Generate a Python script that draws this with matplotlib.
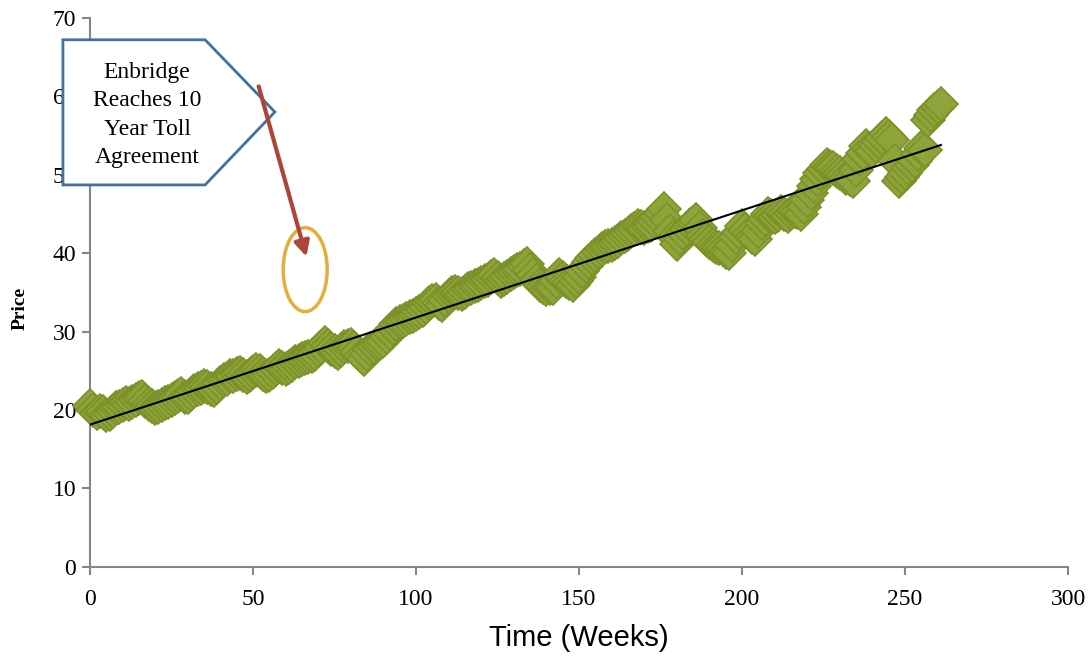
import numpy as np
import matplotlib
matplotlib.use("Agg")
import matplotlib.pyplot as plt
from matplotlib.patches import Polygon, Ellipse

# weekly closing prices, week 0 .. 261
prices = [
    20.5, 20.0, 19.6, 19.9, 19.8, 19.4, 19.5, 19.9, 20.2, 20.4,
    20.6, 20.9, 20.8, 21.0, 21.3, 21.5, 21.6, 21.2, 20.8, 20.5,
    20.3, 20.4, 20.6, 20.9, 21.0, 21.3, 21.5, 21.8, 22.0, 21.7,
    21.6, 22.0, 22.4, 22.7, 22.8, 23.1, 23.0, 22.7, 22.6, 23.0,
    23.5, 23.8, 24.0, 24.3, 24.4, 24.6, 24.7, 24.5, 24.2, 24.5,
    24.8, 25.1, 25.0, 24.6, 24.3, 24.5, 24.8, 25.2, 25.6, 25.4,
    25.2, 25.5, 25.8, 26.1, 26.3, 26.5, 26.6, 26.8, 26.9, 27.2,
    27.6, 28.1, 28.6, 28.2, 27.8, 27.5, 27.3, 27.6, 28.0, 28.2,
    28.3, 27.9, 27.4, 26.9, 26.5, 27.2, 27.8, 28.1, 28.4, 28.6,
    28.8, 29.3, 29.8, 30.5, 31.0, 31.2, 31.4, 31.6, 31.8, 32.0,
    32.3, 32.5, 32.8, 33.2, 33.6, 33.9, 34.0, 33.7, 33.4, 34.0,
    34.6, 34.9, 35.0, 34.9, 34.8, 35.1, 35.4, 35.6, 35.8, 36.0,
    36.2, 36.4, 36.6, 36.9, 37.2, 36.8, 36.4, 36.7, 37.0, 37.3,
    37.6, 37.8, 38.0, 38.3, 38.6, 37.9, 37.2, 36.6, 36.0, 35.7,
    35.4, 35.5, 35.6, 36.4, 37.2, 36.8, 36.4, 36.2, 36.0, 36.5,
    37.0, 37.7, 38.4, 38.9, 39.4, 39.8, 40.2, 40.5, 40.8, 40.9,
    41.0, 41.3, 41.6, 41.9, 42.2, 42.5, 42.8, 43.1, 43.4, 43.3,
    43.2, 43.4, 43.6, 44.1, 44.6, 45.1, 45.6, 44.2, 42.8, 42.0,
    41.2, 41.9, 42.6, 43.1, 43.6, 43.9, 44.2, 43.2, 42.2, 41.8,
    41.4, 41.1, 40.8, 40.6, 40.5, 40.2, 40.0, 41.0, 42.0, 42.7,
    43.4, 42.9, 42.4, 42.1, 41.8, 42.8, 43.8, 44.4, 45.0, 44.8,
    44.6, 44.9, 45.2, 45.0, 44.8, 45.1, 45.4, 45.2, 45.0, 45.9,
    46.8, 47.7, 48.6, 49.4, 50.2, 50.7, 51.2, 51.0, 50.8, 50.5,
    50.2, 49.9, 49.6, 49.4, 49.2, 50.6, 52.0, 52.8, 53.6, 53.3,
    53.0, 53.6, 54.2, 54.7, 55.2, 54.8, 54.4, 51.8, 49.2, 49.7,
    50.2, 50.8, 51.2, 51.8, 52.6, 53.4, 53.2, 57.0, 57.6, 58.2,
    58.6, 59.0,
]
weeks = np.arange(len(prices))

x_ticks = [0, 50, 100, 150, 200, 250, 300]
y_ticks = [0, 10, 20, 30, 40, 50, 60, 70]
note = "Enbridge\nReaches 10\nYear Toll\nAgreement"

fig = plt.figure(figsize=(10.91, 6.6), dpi=100)
ax = fig.add_axes([0.0825, 0.141, 0.8965, 0.832])

ax.plot(weeks, prices, linestyle="none", marker="D", markersize=17,
        markerfacecolor="#8FA33B", markeredgecolor="#7D9129",
        markeredgewidth=1.2, zorder=3, clip_on=False)

# linear trend
slope, intercept = np.polyfit(weeks, prices, 1)
ax.plot([weeks[0], weeks[-1]],
        [intercept, intercept + slope * weeks[-1]],
        color="black", lw=1.5, zorder=4)

ax.set_xlim(0, 300)
ax.set_ylim(0, 70)
ax.set_xticks(x_ticks)
ax.set_yticks(y_ticks)

for side in ("top", "right"):
    ax.spines[side].set_visible(False)
for side in ("left", "bottom"):
    ax.spines[side].set_color("#868686")
    ax.spines[side].set_linewidth(1.5)
ax.tick_params(direction="out", length=6, width=1.5, color="#868686",
               labelsize=17)
ax.tick_params(axis="x", pad=10)
ax.tick_params(axis="y", pad=4)
for lab in ax.get_xticklabels() + ax.get_yticklabels():
    lab.set_fontfamily("Liberation Serif")

ax.set_ylabel("Price", family="Liberation Serif", fontweight="bold",
              fontsize=14)
ax.yaxis.set_label_coords(-0.063, 0.47)
ax.set_xlabel("Time (Weeks)", family="Liberation Sans", fontsize=21)
ax.xaxis.set_label_coords(0.5, -0.104)

# callout box
callout = Polygon([(-8.3, 67.2), (35.3, 67.2), (56.7, 58.0), (35.3, 48.7),
                   (-8.3, 48.7)], closed=True, facecolor="white",
                  edgecolor="#41719C", lw=2, clip_on=False, zorder=10)
ax.add_patch(callout)
ax.text(17.5, 57.6, note, ha="center", va="center", fontsize=17,
        family="Liberation Serif", linespacing=1.45, zorder=11)

ax.annotate("", xy=(66.6, 39.2), xytext=(51.5, 61.6),
            arrowprops=dict(arrowstyle="-|>,head_length=0.9,head_width=0.45",
                            color="#AE4539", lw=3),
            zorder=12, annotation_clip=False)

ax.add_patch(Ellipse((66.0, 37.9), 13.5, 10.7, fill=False,
                     edgecolor="#E5AE3A", lw=2.5, zorder=9))

fig.savefig("out.png", dpi=100)
